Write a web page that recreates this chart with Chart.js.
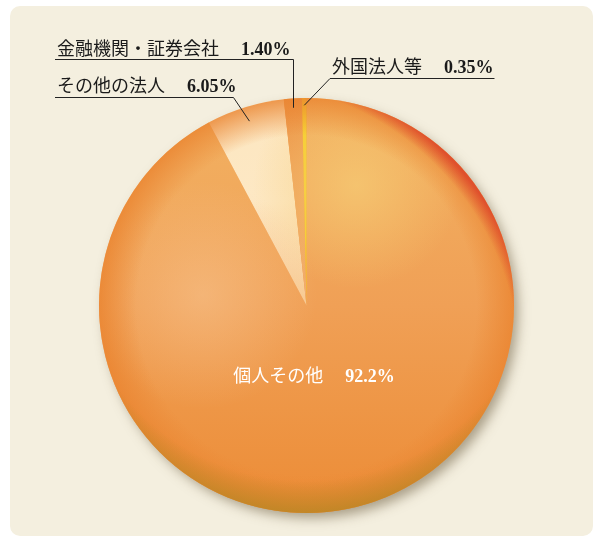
<!DOCTYPE html>
<html lang="ja">
<head>
  <meta charset="UTF-8">
  <title>株主構成</title>
  <style>
    html, body { margin: 0; padding: 0; background: #fff; }
    .wrap { position: relative; width: 595px; height: 537px; overflow: hidden; }
    .panel { position: absolute; left: 10px; top: 6px; right: 2px; bottom: 1px;
             background: #f4efdf; border-radius: 10px; }
    #pie { position: absolute; left: 0; top: 0; }
  </style>
</head>
<body>
  <div class="wrap">
    <div class="panel"></div>
    <canvas id="pie" width="595" height="537"></canvas>
  </div>

  <script src="https://cdn.jsdelivr.net/npm/chart.js@4/dist/chart.umd.min.js"></script>
  <script>
// data
const holderNames = ["個人その他", "その他の法人", "金融機関・証券会社", "外国法人等"];
const holderShares = [92.2, 6.05, 1.40, 0.35];
const shareLabels = ["92.2%", "6.05%", "1.40%", "0.35%"];
const sliceColors = ["#ef9d4e", "#fbe1b4", "#f0a25f", "#f6d026"];

const jpFont = '18px "Noto Sans CJK JP", "Noto Sans", sans-serif';
const numFont = 'bold 18px "Liberation Serif", "DejaVu Serif", serif';

function pieGeom(chart) {
  const arc = chart.getDatasetMeta(0).data[0];
  return { cx: arc.x, cy: arc.y, r: arc.outerRadius };
}

function sliceFill(c) {
  const chart = c.chart;
  const a = chart.chartArea;
  const base = sliceColors[c.dataIndex];
  if (!a) return base;
  const ctx = chart.ctx;
  const cx = (a.left + a.right) / 2, cy = (a.top + a.bottom) / 2;
  const r = Math.min(a.right - a.left, a.bottom - a.top) / 2;
  let g;
  if (c.dataIndex === 0) {
    g = ctx.createLinearGradient(0, cy - r, 0, cy + r);
    g.addColorStop(0, '#f2b262');
    g.addColorStop(0.5, '#f0a056');
    g.addColorStop(1, '#ec8c36');
  } else if (c.dataIndex === 1) {
    g = ctx.createLinearGradient(0, cy - r, 0, cy);
    g.addColorStop(0, '#fce6c0');
    g.addColorStop(0.5, '#fde8c4');
    g.addColorStop(1, '#f7c890');
  } else if (c.dataIndex === 2) {
    g = ctx.createLinearGradient(0, cy - r, 0, cy);
    g.addColorStop(0, '#ec9446');
    g.addColorStop(1, '#f2ae6c');
  } else {
    return base;
  }
  return g;
}

// drop shadow behind the pie
const shadowPlugin = {
  id: 'shadow',
  beforeDatasetsDraw(chart) {
    const { cx, cy, r } = pieGeom(chart);
    const ctx = chart.ctx;
    ctx.save();
    ctx.shadowColor = 'rgba(95,80,50,0.5)';
    ctx.shadowBlur = 12;
    ctx.shadowOffsetX = 5;
    ctx.shadowOffsetY = 6;
    ctx.fillStyle = '#ec9040';
    ctx.beginPath();
    ctx.arc(cx, cy, r - 1, 0, Math.PI * 2);
    ctx.fill();
    ctx.restore();
  }
};

// soft shading over the whole pie
const shadePlugin = {
  id: 'shade',
  afterDatasetsDraw(chart) {
    const { cx, cy, r } = pieGeom(chart);
    const ctx = chart.ctx;
    ctx.save();
    ctx.beginPath();
    ctx.arc(cx, cy, r, 0, Math.PI * 2);
    ctx.clip();

    function blob(x, y, rad, stops) {
      const g = ctx.createRadialGradient(x, y, 0, x, y, rad);
      stops.forEach(s => g.addColorStop(s[0], s[1]));
      ctx.fillStyle = g;
      ctx.fillRect(cx - r, cy - r, r * 2, r * 2);
    }
    // highlights
    blob(cx + 0.24 * r, cy - 0.58 * r, 0.5 * r, [[0, 'rgba(246,205,118,0.7)'], [1, 'rgba(246,205,118,0)']]);
    blob(cx - 0.5 * r, cy - 0.05 * r, 0.55 * r, [[0, 'rgba(248,200,150,0.5)'], [1, 'rgba(248,200,150,0)']]);
    // orange rim
    blob(cx, cy, r, [[0.82, 'rgba(234,132,48,0)'], [1, 'rgba(234,132,48,0.8)']]);
    // olive bottom rim
    blob(cx, cy - 0.3 * r, 1.3 * r, [[0.88, 'rgba(180,135,35,0)'], [1, 'rgba(180,135,35,0.75)']]);
    // red upper right rim
    blob(cx - 0.35 * r, cy + 0.3 * r, 1.45 * r, [[0.95, 'rgba(215,40,35,0)'], [1, 'rgba(215,40,35,0.6)']]);
    ctx.restore();
  }
};

// labels with leader lines
const labelPos = [
  { x: 314, y: 382, inside: true },
  { x: 57, y: 92, lineFrom: 55, lineY: 97.5, rf: 0.93 },
  { x: 57, y: 55, lineFrom: 55, lineY: 59.5, rf: 0.955, vertical: true },
  { x: 332, y: 73, lineFrom: 330, lineY: 78.5, rf: 0.965, leftKnee: true }
];

const labelPlugin = {
  id: 'labels',
  afterDraw(chart) {
    const ctx = chart.ctx;
    const arcs = chart.getDatasetMeta(0).data;
    ctx.save();
    ctx.textBaseline = 'alphabetic';
    holderNames.forEach((name, i) => {
      const p = labelPos[i];
      ctx.font = jpFont;
      const w1 = ctx.measureText(name).width;
      const gap = 22;
      ctx.font = numFont;
      const w2 = ctx.measureText(shareLabels[i]).width;
      const total = w1 + gap + w2;
      let x0 = p.inside ? p.x - total / 2 : p.x;
      ctx.fillStyle = p.inside ? '#ffffff' : '#1a1a1a';
      ctx.textAlign = 'left';
      ctx.font = jpFont;
      ctx.fillText(name, x0, p.y);
      ctx.font = numFont;
      ctx.fillText(shareLabels[i], x0 + w1 + gap, p.y);
      if (p.inside) return;

      const arc = arcs[i];
      const mid = (arc.startAngle + arc.endAngle) / 2;
      const ax = arc.x + Math.cos(mid) * arc.outerRadius * p.rf;
      const ay = arc.y + Math.sin(mid) * arc.outerRadius * p.rf;
      const xEnd = x0 + total + 1;
      ctx.strokeStyle = '#222';
      ctx.lineWidth = 1;
      ctx.beginPath();
      if (p.vertical) {
        ctx.moveTo(p.lineFrom, p.lineY);
        ctx.lineTo(Math.round(ax) + 0.5, p.lineY);
        ctx.lineTo(Math.round(ax) + 0.5, ay);
      } else if (p.leftKnee) {
        ctx.moveTo(xEnd, p.lineY);
        ctx.lineTo(p.lineFrom, p.lineY);
        ctx.lineTo(ax, ay);
      } else {
        ctx.moveTo(p.lineFrom, p.lineY);
        ctx.lineTo(xEnd - 4, p.lineY);
        ctx.lineTo(ax, ay);
      }
      ctx.stroke();
    });
    ctx.restore();
  }
};

new Chart(document.getElementById('pie'), {
  type: 'pie',
  data: {
    labels: holderNames,
    datasets: [{
      data: holderShares,
      backgroundColor: sliceFill,
      borderWidth: 0,
      hoverOffset: 0
    }]
  },
  options: {
    responsive: false,
    animation: false,
    events: [],
    layout: { padding: { left: 99, right: 81, top: 98, bottom: 24 } },
    plugins: {
      legend: { display: false },
      tooltip: { enabled: false }
    }
  },
  plugins: [shadowPlugin, shadePlugin, labelPlugin]
});
  </script>
</body>
</html>
